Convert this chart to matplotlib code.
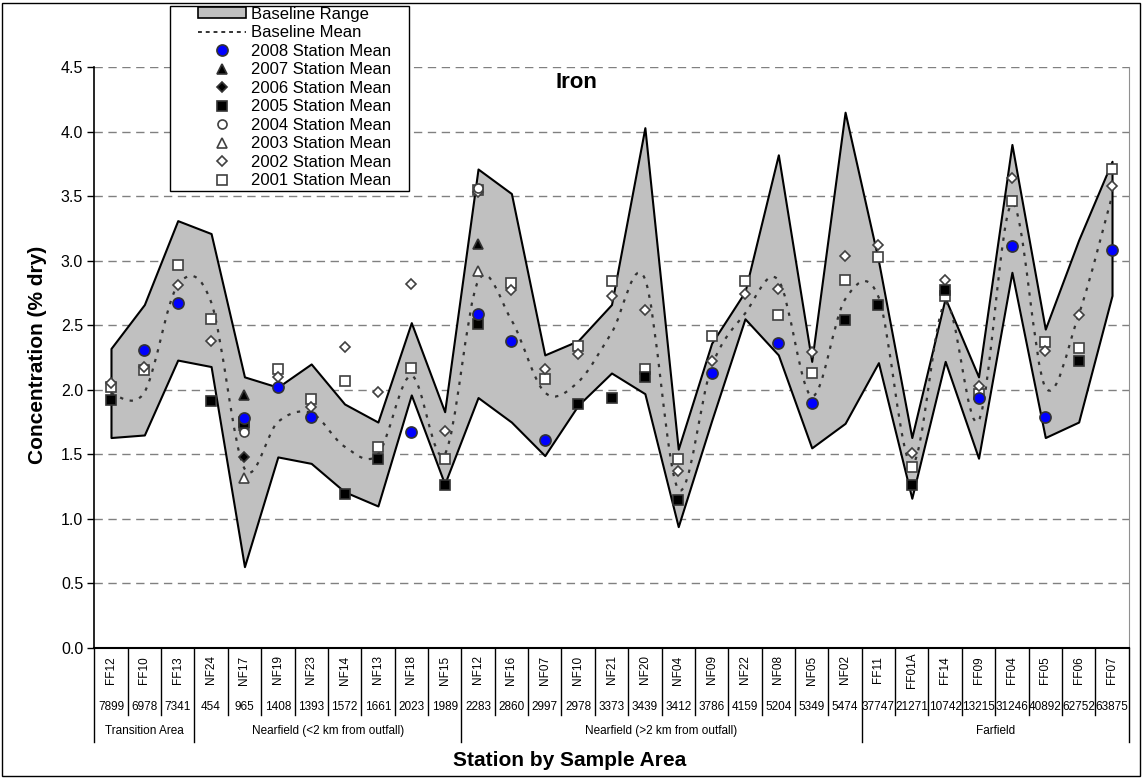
import numpy as np
import matplotlib
matplotlib.use("Agg")
from matplotlib import pyplot as plt
from matplotlib.path import Path
from matplotlib.patches import PathPatch, Patch, Rectangle
from matplotlib.lines import Line2D

plt.rcParams['font.family'] = ['Liberation Sans', 'DejaVu Sans']

nan = np.nan

stations = ["FF12", "FF10", "FF13", "NF24", "NF17", "NF19", "NF23", "NF14", "NF13", "NF18", "NF15",
            "NF12", "NF16", "NF07", "NF10", "NF21", "NF20", "NF04", "NF09", "NF22", "NF08", "NF05", "NF02",
            "FF11", "FF01A", "FF14", "FF09", "FF04", "FF05", "FF06", "FF07"]
distances = ["7899", "6978", "7341", "454", "965", "1408", "1393", "1572", "1661", "2023", "1989",
             "2283", "2860", "2997", "2978", "3373", "3439", "3412", "3786", "4159", "5204", "5349", "5474",
             "37747", "21271", "10742", "13215", "31246", "40892", "62752", "63875"]
groups = ["Transition Area", "Nearfield (<2 km from outfall)", "Nearfield (>2 km from outfall)", "Farfield"]
group_sizes = [3, 8, 12, 8]

base_upper = [2.32, 2.66, 3.31, 3.21, 2.10, 2.02, 2.20, 1.89, 1.75, 2.52, 1.83,
              3.71, 3.52, 2.27, 2.38, 2.66, 4.03, 1.54, 2.36, 2.76, 3.82, 2.22, 4.15,
              3.00, 1.63, 2.71, 2.10, 3.90, 2.47, 3.16, 3.77]
base_lower = [1.63, 1.65, 2.23, 2.18, 0.63, 1.48, 1.43, 1.21, 1.10, 1.96, 1.27,
              1.94, 1.75, 1.49, 1.88, 2.13, 1.97, 0.94, 1.76, 2.55, 2.27, 1.55, 1.74,
              2.21, 1.16, 2.22, 1.47, 2.91, 1.63, 1.75, 2.73]
base_mean = [1.97, 1.98, 2.81, 2.68, 1.39, 1.75, 1.82, 1.56, 1.50, 2.11, 1.50,
             2.84, 2.54, 1.98, 2.06, 2.44, 2.86, 1.23, 2.18, 2.59, 2.85, 1.95, 2.70,
             2.72, 1.42, 2.67, 1.76, 3.44, 2.02, 2.58, 3.50]

y2008 = [nan, 2.31, 2.67, nan, 1.78, 2.02, 1.79, nan, nan, 1.67, nan,
         2.59, 2.38, 1.61, nan, nan, nan, nan, 2.13, nan, 2.36, 1.90, nan,
         nan, nan, nan, 1.94, 3.11, 1.79, nan, 3.08]
y2007 = [nan] * 4 + [1.96] + [nan] * 6 + [3.13] + [nan] * 19
y2006 = [nan] * 4 + [1.48] + [nan] * 26
y2005 = [1.92, nan, nan, 1.91, 1.74, nan, nan, 1.19, 1.46, nan, 1.26,
         2.51, nan, nan, 1.89, 1.94, 2.10, 1.15, nan, nan, nan, nan, 2.54,
         2.66, 1.26, 2.77, nan, nan, nan, 2.22, nan]
y2004 = [nan] * 4 + [1.67] + [nan] * 6 + [3.56] + [nan] * 19
y2003 = [nan] * 4 + [1.32] + [nan] * 6 + [2.92] + [nan] * 19
y2002 = [2.05, 2.18, 2.81, 2.38, 1.69, 2.10, 1.87, 2.33, 1.98, 2.82, 1.68,
         3.53, 2.77, 2.16, 2.28, 2.73, 2.62, 1.37, 2.22, 2.74, 2.78, 2.29, 3.04,
         3.12, 1.51, 2.85, 2.03, 3.64, 2.30, 2.58, 3.58]
y2001 = [2.02, 2.15, 2.97, 2.55, 1.75, 2.16, 1.93, 2.07, 1.56, 2.17, 1.46,
         3.55, 2.83, 2.08, 2.34, 2.84, 2.16, 1.46, 2.42, 2.84, 2.58, 2.13, 2.85,
         3.03, 1.40, 2.73, 1.97, 3.46, 2.37, 2.32, 3.71]

x = np.arange(len(stations))

W, H = 1143, 778
fig = plt.figure(figsize=(W / 100, H / 100), dpi=100)
ax = fig.add_axes([94.3 / W, 1 - 648 / H, (1128.7 - 94.3) / W, 581 / H])

# baseline range band
ax.fill_between(x, base_lower, base_upper, facecolor='#C0C0C0', edgecolor='black',
                linewidth=1.5, zorder=2)

# smoothed baseline mean (bezier through the points, like excel smoothing)
pts = np.column_stack([x, base_mean]).astype(float)
verts = [pts[0]]
codes = [Path.MOVETO]
n = len(pts)
for i in range(n - 1):
    p_prev = pts[max(i - 1, 0)]
    p_next2 = pts[min(i + 2, n - 1)]
    c1 = pts[i] + (pts[i + 1] - p_prev) / 6
    c2 = pts[i + 1] - (p_next2 - pts[i]) / 6
    verts += [c1, c2, pts[i + 1]]
    codes += [Path.CURVE4] * 3
ax.add_patch(PathPatch(Path(verts, codes), fill=False, edgecolor='#333333',
                       linewidth=1.6, linestyle=(0, (1.5, 3)), zorder=3))

# station means, oldest drawn first so 2008 sits on top
edge = '#404040'
series = [
    (y2001, dict(marker='s', ms=6.5, mfc='white', mec=edge)),
    (y2002, dict(marker='D', ms=5.5, mfc='white', mec=edge)),
    (y2003, dict(marker='^', ms=7, mfc='white', mec=edge)),
    (y2004, dict(marker='o', ms=6.5, mfc='white', mec=edge)),
    (y2005, dict(marker='s', ms=6.5, mfc='black', mec='#333333')),
    (y2006, dict(marker='D', ms=5.5, mfc='black', mec='#333333')),
    (y2007, dict(marker='^', ms=7, mfc='black', mec='#333333')),
    (y2008, dict(marker='o', ms=8, mfc='#0000FF', mec='#333333')),
]
for vals, st in series:
    ax.plot(x, vals, linestyle='none', mew=1.2, zorder=4, **st)

ax.set_xlim(-0.5, len(stations) - 0.5)
ax.set_ylim(0, 4.5)
ticks = np.arange(0, 4.51, 0.5)
ax.set_yticks(ticks)
ax.set_yticklabels(['{:.1f}'.format(v) for v in ticks], fontsize=11.5)
ax.tick_params(axis='y', direction='out', length=5, width=1, pad=3)
ax.set_xticks([])
for v in ticks[1:]:
    ax.axhline(v, color='#808080', linestyle=(0, (6, 4)), linewidth=1, zorder=1)
ax.spines['top'].set_visible(False)
ax.spines['right'].set_color('#909090')
ax.spines['left'].set_linewidth(1.2)
ax.spines['bottom'].set_linewidth(1.5)

# category table under the axis
axh = 581.0
tr = ax.get_xaxis_transform()
def off(px):
    return -px / axh
for i, (s, d) in enumerate(zip(stations, distances)):
    ax.text(i, off(22), s, rotation=90, ha='center', va='center', fontsize=8.5,
            transform=tr, clip_on=False)
    ax.text(i, off(59), d, ha='center', va='center', fontsize=8.5,
            transform=tr, clip_on=False)
bounds = np.cumsum([0] + group_sizes)
for b in range(len(stations) + 1):
    bottom = 94 if b in bounds else 67
    ax.plot([b - 0.5, b - 0.5], [0, off(bottom)], color='black', linewidth=1,
            transform=tr, clip_on=False)
for g, name in enumerate(groups):
    mid = (bounds[g] + bounds[g + 1] - 1) / 2
    ax.text(mid, off(83), name, ha='center', va='center', fontsize=8.5,
            transform=tr, clip_on=False)

fig.text(576 / W, 1 - 82 / H, "Iron", ha='center', va='center', fontsize=16, fontweight='bold')
fig.text(38 / W, 1 - 355 / H, "Concentration (% dry)", rotation=90, ha='center', va='center',
         fontsize=15, fontweight='bold')
fig.text(570 / W, 1 - 760 / H, "Station by Sample Area", ha='center', va='center',
         fontsize=15, fontweight='bold')

# legend, frame drawn separately to get the wide left margin
handles = [Patch(facecolor='#C0C0C0', edgecolor='black', linewidth=1.2),
           Line2D([], [], color='#333333', linestyle=(0, (2, 2)), linewidth=1.4)]
labels = ["Baseline Range", "Baseline Mean"]
years = ["2008", "2007", "2006", "2005", "2004", "2003", "2002", "2001"]
for yr, (vals, st) in zip(years, series[::-1]):
    handles.append(Line2D([], [], linestyle='none', mew=1.2, **st))
    labels.append("{} Station Mean".format(yr))
fig.patches.append(Rectangle((170 / W, 1 - 191 / H), 239 / W, 185 / H, transform=fig.transFigure,
                             facecolor='white', edgecolor='black', linewidth=1, zorder=5))
leg = fig.legend(handles, labels, loc='upper left', bbox_to_anchor=(196 / W, 1 - 5 / H),
                 fontsize=12, frameon=False, borderpad=0.1, labelspacing=0.21,
                 handlelength=2.9, handletextpad=0.3, borderaxespad=0, handleheight=0.6)
leg.set_zorder(6)

# chart border
fig.patches.append(Rectangle((2 / W, 2 / H), 1138 / W, 773 / H, transform=fig.transFigure,
                             fill=False, edgecolor='black', linewidth=1))

fig.savefig("out.png", dpi=100)
